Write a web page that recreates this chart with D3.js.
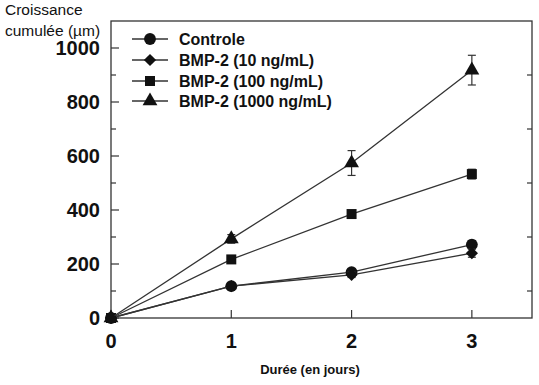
<!DOCTYPE html>
<meta charset="utf-8">
<style>
body { margin: 0; background: #fff; }
text { font-family: "Liberation Sans", Arial, sans-serif; fill: #111; }
</style>
<body>
<script src="https://d3js.org/d3.v7.min.js"></script>
<script>
// days and series values (µm), with error bar half-widths
var days = [0, 1, 2, 3];
var controle   = [0, 118, 170, 272];
var controleEr = [0, 8, 10, 15];
var bmp10      = [0, 118, 160, 240];
var bmp10Er    = [0, 8, 10, 15];
var bmp100     = [0, 217, 385, 533];
var bmp100Er   = [0, 8, 12, 18];
var bmp1000    = [0, 293, 574, 918];
var bmp1000Er  = [0, 16, 46, 55];
var seriesNames = ["Controle", "BMP-2 (10 ng/mL)", "BMP-2 (100 ng/mL)", "BMP-2 (1000 ng/mL)"];
var xTickLabels = [0, 1, 2, 3];
var yTickLabels = [0, 200, 400, 600, 800, 1000];

var width = 539, height = 385;
var mLeft = 111, mRight = 532, mTop = 21, mBottom = 318;

var svg = d3.select("body").append("svg")
    .attr("width", width)
    .attr("height", height);

var x = d3.scaleLinear().domain([0, 3.5]).range([mLeft, mRight]);
var y = d3.scaleLinear().domain([0, 1100]).range([mBottom, mTop]);

var series = [
  {name: seriesNames[0], v: controle, e: controleEr, s: d3.symbolCircle, size: 110, rot: 0},
  {name: seriesNames[1], v: bmp10, e: bmp10Er, s: d3.symbolSquare, size: 75, rot: 45},
  {name: seriesNames[2], v: bmp100, e: bmp100Er, s: d3.symbolSquare, size: 100, rot: 0},
  {name: seriesNames[3], v: bmp1000, e: bmp1000Er, s: d3.symbolTriangle, size: 95, rot: 0}
];

// frame
svg.append("rect")
    .attr("x", mLeft).attr("y", mTop)
    .attr("width", mRight - mLeft).attr("height", mBottom - mTop)
    .attr("fill", "none").attr("stroke", "#333").attr("stroke-width", 1.3);

// y ticks left (inward), every 100
d3.range(0, 1001, 100).forEach(function(v) {
  var major = v % 200 == 0;
  svg.append("line")
      .attr("x1", mLeft).attr("x2", mLeft + (major ? 8 : 5))
      .attr("y1", y(v)).attr("y2", y(v))
      .attr("stroke", "#333").attr("stroke-width", 1.2);
});
// right axis ticks
d3.range(100, 1001, 200).forEach(function(v) {
  svg.append("line")
      .attr("x1", mRight).attr("x2", mRight - 5)
      .attr("y1", y(v)).attr("y2", y(v))
      .attr("stroke", "#333").attr("stroke-width", 1.2);
});
// x ticks
xTickLabels.forEach(function(v) {
  svg.append("line")
      .attr("x1", x(v)).attr("x2", x(v))
      .attr("y1", mBottom).attr("y2", mBottom - 8)
      .attr("stroke", "#333").attr("stroke-width", 1.2);
});

svg.selectAll(".ylab").data(yTickLabels).enter().append("text")
    .attr("x", 100).attr("y", function(d) { return y(d) + 7; })
    .attr("text-anchor", "end")
    .style("font-size", "20px").style("font-weight", "bold")
    .text(function(d) { return d; });

svg.selectAll(".xlab").data(xTickLabels).enter().append("text")
    .attr("x", function(d) { return x(d); }).attr("y", 348)
    .attr("text-anchor", "middle")
    .style("font-size", "20px").style("font-weight", "bold")
    .text(function(d) { return d; });

svg.append("text").attr("x", 5).attr("y", 15)
    .style("font-size", "15.5px").text("Croissance");
svg.append("text").attr("x", 5).attr("y", 36)
    .style("font-size", "15.5px").text("cumulée (µm)");
svg.append("text").attr("x", 310).attr("y", 374)
    .attr("text-anchor", "middle")
    .style("font-size", "13px").style("font-weight", "bold")
    .text("Durée (en jours)");

var line = d3.line()
    .x(function(d, i) { return x(days[i]); })
    .y(function(d) { return y(d); });

series.forEach(function(s) {
  svg.append("path")
      .attr("d", line(s.v))
      .attr("fill", "none").attr("stroke", "#333").attr("stroke-width", 1.3);

  days.forEach(function(d, i) {
    if (s.e[i] < 10) return;
    var cx = x(d), y1 = y(s.v[i] + s.e[i]), y2 = y(s.v[i] - s.e[i]);
    var g = svg.append("g").attr("stroke", "#333").attr("stroke-width", 1.2);
    g.append("line").attr("x1", cx).attr("x2", cx).attr("y1", y1).attr("y2", y2);
    g.append("line").attr("x1", cx - 4).attr("x2", cx + 4).attr("y1", y1).attr("y2", y1);
    g.append("line").attr("x1", cx - 4).attr("x2", cx + 4).attr("y1", y2).attr("y2", y2);
  });

  svg.selectAll(null).data(s.v).enter().append("path")
      .attr("d", d3.symbol().type(s.s).size(s.size))
      .attr("transform", function(d, i) { return "translate(" + x(days[i]) + "," + y(d) + ") rotate(" + s.rot + ")"; })
      .attr("fill", "#111");
});

// legend
var legY = [39, 60, 81, 101];
series.forEach(function(s, i) {
  svg.append("line")
      .attr("x1", 132).attr("x2", 168)
      .attr("y1", legY[i]).attr("y2", legY[i])
      .attr("stroke", "#333").attr("stroke-width", 1.3);
  svg.append("path")
      .attr("d", d3.symbol().type(s.s).size(s.size))
      .attr("transform", "translate(150," + legY[i] + ") rotate(" + s.rot + ")")
      .attr("fill", "#111");
  svg.append("text")
      .attr("x", 179).attr("y", legY[i] + 6)
      .style("font-size", "16px").style("font-weight", "bold")
      .text(s.name);
});
</script>
</body>
